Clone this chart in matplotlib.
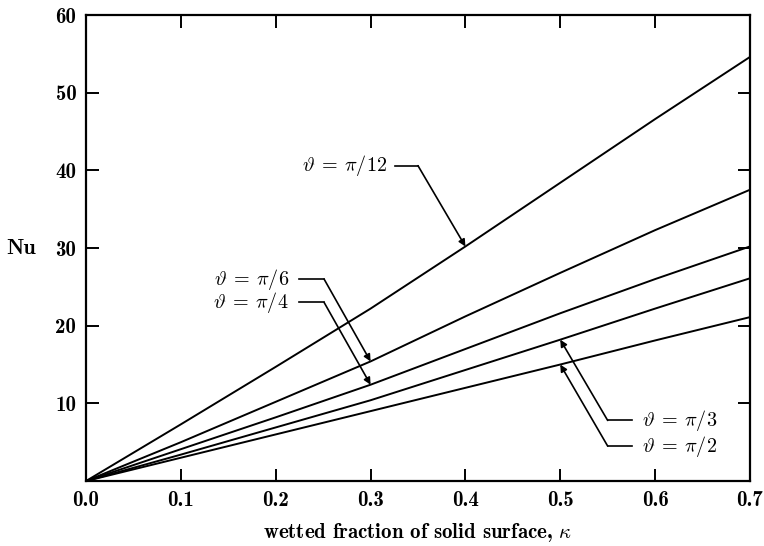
import numpy as np
import matplotlib.pyplot as plt

plt.rcParams["font.family"] = "cmb10"
plt.rcParams["mathtext.fontset"] = "cm"
plt.rcParams["axes.formatter.use_mathtext"] = True

# wetted fraction of solid surface
kappa = [0.0, 0.1, 0.2, 0.3, 0.4, 0.5, 0.6, 0.7]

# Nusselt number for each contact angle
nu_pi12 = [0.0, 7.3, 14.7, 22.2, 30.2, 38.4, 46.6, 54.6]
nu_pi6 = [0.0, 5.0, 10.2, 15.4, 21.2, 26.8, 32.3, 37.5]
nu_pi4 = [0.0, 4.1, 8.2, 12.4, 17.0, 21.6, 26.0, 30.2]
nu_pi3 = [0.0, 3.4, 6.9, 10.4, 14.3, 18.2, 22.2, 26.1]
nu_pi2 = [0.0, 3.0, 6.0, 9.0, 12.0, 15.0, 18.1, 21.1]

labels = [r"$\vartheta\:=\:\pi/12$", r"$\vartheta\:=\:\pi/6$", r"$\vartheta\:=\:\pi/4$",
          r"$\vartheta\:=\:\pi/3$", r"$\vartheta\:=\:\pi/2$"]
series = [nu_pi12, nu_pi6, nu_pi4, nu_pi3, nu_pi2]

fig = plt.figure(figsize=(7.64, 5.46), dpi=100)
ax = fig.add_axes([0.1126, 0.119, 0.869, 0.8535])

for nu in series:
    ax.plot(kappa, nu, color="black", lw=1.4)

# leader lines: (x where arrow hits curve, text x, text y, line start, elbow x)
notes = [
    (0.4, 0.3172, 40.6, 0.3256, 0.350),
    (0.3, 0.2139, 26.0, 0.2245, 0.251),
    (0.3, 0.2139, 23.0, 0.2245, 0.251),
    (0.5, 0.5859, 7.8, 0.5753, 0.550),
    (0.5, 0.5859, 4.5, 0.5753, 0.550),
]
for lab, nu, (xa, xt, yt, xs, xe) in zip(labels, series, notes):
    tip = (xa, np.interp(xa, kappa, nu))
    ha = "right" if xs > xt else "left"
    ax.text(xt, yt, lab, ha=ha, va="center", fontsize=14.5)
    ax.plot([xs, xe], [yt, yt], color="black", lw=1.2)
    ax.annotate("", xy=tip, xytext=(xe, yt),
                arrowprops=dict(arrowstyle="-|>", lw=1.2, color="black",
                                shrinkA=0, shrinkB=0, mutation_scale=10))

ax.set_xlim(0, 0.7)
ax.set_ylim(0, 60)
ax.set_xticks([0.0, 0.1, 0.2, 0.3, 0.4, 0.5, 0.6, 0.7])
ax.set_xticklabels(["0.0", "0.1", "0.2", "0.3", "0.4", "0.5", "0.6", "0.7"])
ax.set_yticks([10, 20, 30, 40, 50, 60])
ax.set_yticklabels(["10", "20", "30", "40", "50", "60"])
ax.tick_params(direction="in", length=9, width=1.4, top=True, right=True,
               labelsize=15, pad=7)
for s in ax.spines.values():
    s.set_linewidth(1.6)

ax.set_xlabel(r"wetted fraction of solid surface, $\kappa$", fontsize=15, labelpad=8)
ax.set_ylabel("Nu", fontsize=16, rotation=0, va="center")
ax.yaxis.set_label_coords(-0.098, 0.5)

fig.savefig("out.png", dpi=100)
